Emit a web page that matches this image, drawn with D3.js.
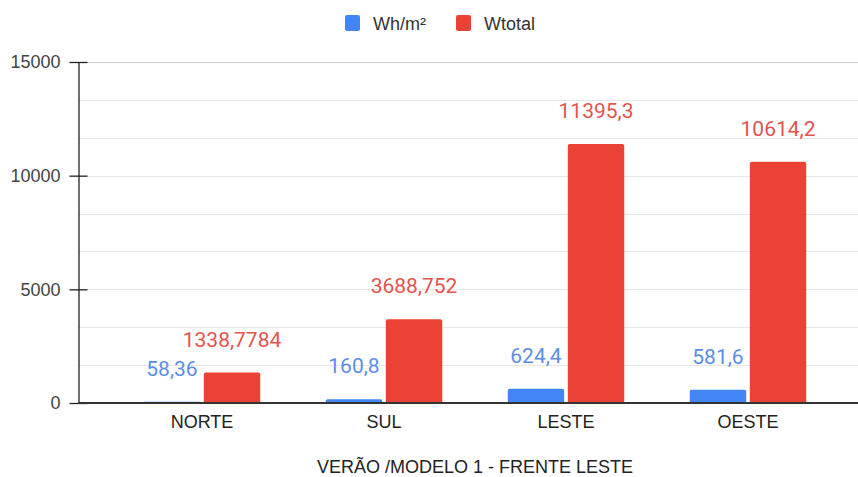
<!DOCTYPE html>
<html>
<head>
<meta charset="utf-8">
<script src="https://cdn.jsdelivr.net/npm/d3@7"></script>
<style>
  html, body { margin: 0; padding: 0; background: #fff; }
  svg { display: block; }
</style>
</head>
<body>
<svg id="chart" width="858" height="477"></svg>
<script>
// Data
const categories = ["NORTE", "SUL", "LESTE", "OESTE"];
const seriesNames = ["Wh/m²", "Wtotal"];
const whm2 = [58.36, 160.8, 624.4, 581.6];
const wtotal = [1338.7784, 3688.752, 11395.3, 10614.2];
const yTicks = [0, 5000, 10000, 15000];
const xTitle = "VERÃO /MODELO 1 - FRENTE LESTE";

const barColors = ["#4285f4", "#ea4335"];
const labelColors = ["#5a8ee6", "#e3544c"];
const axisFont = "'Liberation Sans', Arial, sans-serif";

const svg = d3.select("#chart");
const plotLeft = 78, plotRight = 858, plotTop = 62, plotBottom = 403;

const x = d3.scaleBand().domain(categories).range([111, 839]).paddingInner(0.36).paddingOuter(0.18);
const xs = d3.scaleBand().domain(seriesNames).range([0, x.bandwidth()]).paddingInner(0.06);
const y = d3.scaleLinear().domain([0, 15000]).range([plotBottom, plotTop]);

// Gridlines: every third of a major step
const minor = d3.range(0, 15000 + 1, 5000 / 3);
svg.append("g").selectAll("line").data(minor).join("line")
  .attr("x1", plotLeft).attr("x2", plotRight)
  .attr("y1", d => Math.round(y(d)) + 0.5).attr("y2", d => Math.round(y(d)) + 0.5)
  .attr("stroke", d => Math.abs(d - 15000) < 1 ? "#cccccc" : "#e6e6e6")
  .attr("stroke-width", 1);

// Y axis
const yAxis = d3.axisLeft(y).tickValues(yTicks).tickFormat(d3.format("d"))
  .tickSizeInner(9).tickSizeOuter(0).tickPadding(9);
const gy = svg.append("g").attr("transform", `translate(${plotLeft + 0.5},0)`).call(yAxis);
gy.select(".domain").attr("stroke", "#222").attr("stroke-width", 1.3);
gy.selectAll(".tick line").attr("stroke", "#222").attr("stroke-width", 1.3).attr("x2", 9).attr("x1", -9);
gy.selectAll(".tick text")
  .attr("font-family", axisFont)
  .attr("font-size", 18).attr("fill", "#444");

// Bars
const rows = categories.map((c, i) => ({ cat: c, vals: [whm2[i], wtotal[i]] }));
const groups = svg.append("g").selectAll("g").data(rows).join("g")
  .attr("transform", d => `translate(${x(d.cat)},0)`);

groups.selectAll("path.bar").data(d => d.vals.map((v, k) => ({ v, k })))
  .join("path").attr("class", "bar")
  .attr("fill", d => barColors[d.k])
  .attr("d", d => {
    const x0 = xs(seriesNames[d.k]), w = xs.bandwidth();
    const y0 = y(d.v), h = plotBottom - y0;
    const r = Math.min(2, h / 2);
    return `M${x0},${plotBottom} V${y0 + r} Q${x0},${y0} ${x0 + r},${y0} H${x0 + w - r} Q${x0 + w},${y0} ${x0 + w},${y0 + r} V${plotBottom} Z`;
  });

// Value labels
const fmt = v => String(v).replace(".", ",");
groups.selectAll("text.val").data(d => d.vals.map((v, k) => ({ v, k })))
  .join("text").attr("class", "val")
  .attr("x", d => xs(seriesNames[d.k]) + xs.bandwidth() / 2)
  .attr("y", d => y(d.v) - 26)
  .attr("text-anchor", "middle")
  .attr("font-family", "Roboto, 'Noto Sans', sans-serif")
  .attr("font-size", 21)
  .attr("fill", d => labelColors[d.k])
  .text(d => fmt(d.v));

// Baseline
svg.append("line")
  .attr("x1", plotLeft).attr("x2", plotRight)
  .attr("y1", plotBottom).attr("y2", plotBottom)
  .attr("stroke", "#333").attr("stroke-width", 2.2);

// X axis labels
svg.append("g").selectAll("text").data(categories).join("text")
  .attr("x", d => x(d) + x.bandwidth() / 2)
  .attr("y", 428)
  .attr("text-anchor", "middle")
  .attr("font-family", axisFont)
  .attr("font-size", 18).attr("fill", "#222")
  .text(d => d);

// X axis title
svg.append("text")
  .attr("x", 475).attr("y", 473)
  .attr("text-anchor", "middle")
  .attr("font-family", axisFont)
  .attr("font-size", 18).attr("fill", "#222")
  .text(xTitle);

// Legend
const legend = svg.append("g");
const legendX = [345, 456];
seriesNames.forEach((n, k) => {
  legend.append("rect")
    .attr("x", legendX[k]).attr("y", 15).attr("width", 15).attr("height", 16).attr("rx", 2)
    .attr("fill", barColors[k]);
  legend.append("text")
    .attr("x", legendX[k] + 28).attr("y", 30)
    .attr("font-family", axisFont)
    .attr("font-size", 18).attr("fill", "#333")
    .text(n);
});
</script>
</body>
</html>
